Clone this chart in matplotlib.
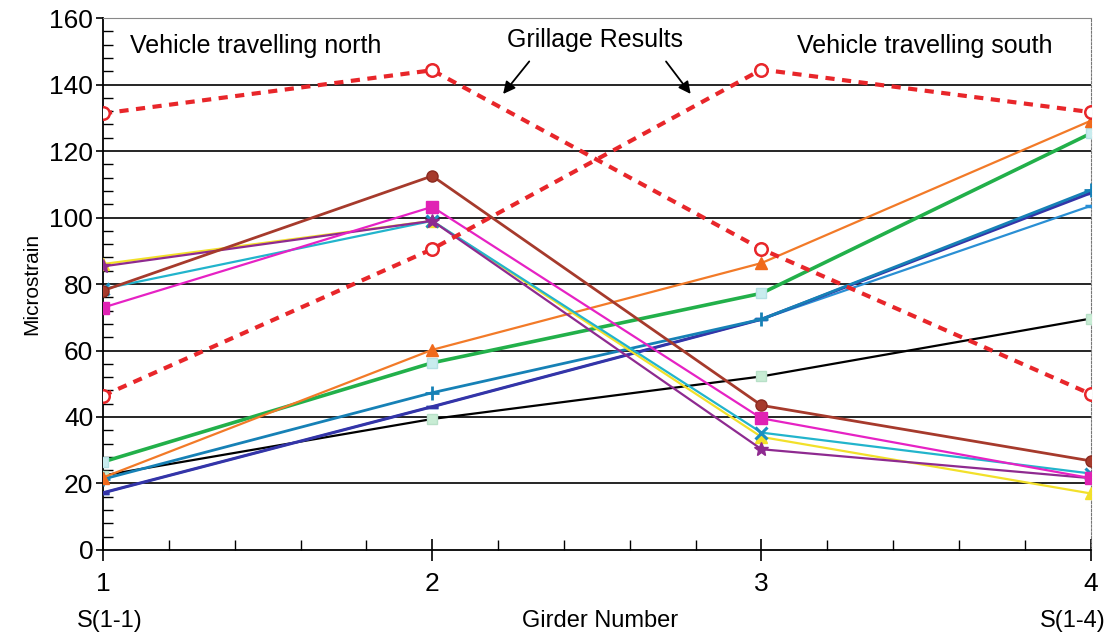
import matplotlib.pyplot as plt
from matplotlib.ticker import MultipleLocator

plt.rcParams['font.family'] = ['Liberation Sans', 'DejaVu Sans']

girders = [1, 2, 3, 4]

# Measured strain, vehicle travelling north
north_brown = [78, 112.5, 43.5, 26.8]
north_magenta = [72.9, 103.2, 39.6, 21.6]
north_yellow = [86, 99, 34, 17]
north_purple = [85.3, 99, 30.3, 21.6]
north_cyan = [78.5, 99, 35.3, 23]

# Measured strain, vehicle travelling south
south_orange = [21.8, 60.2, 86.3, 129.1]
south_green = [26.5, 56.3, 77.2, 125.3]
south_teal = [21.3, 47.3, 69.4, 108.2]
south_navy = [17.2, 43.1, 69.4, 107.4]
south_blue = [17.2, 43.1, 69.4, 103.5]
south_black = [22.4, 39.4, 52.2, 69.6]

# Grillage model results
grillage_north = [131.3, 144.3, 90.5, 46.9]
grillage_south = [46.4, 90.5, 144.5, 131.7]

fig = plt.figure(figsize=(11.13, 6.37), dpi=100)
ax = fig.add_axes([0.0925, 0.1366, 0.8875, 0.8351])

ax.set_xlim(1, 4)
ax.set_ylim(0, 160)

for v in range(20, 160, 20):
    ax.axhline(v, color='black', lw=1.2, zorder=1)

lw = 1.6
ms = 7
ax.plot(girders, south_black, color='black', lw=lw, marker='s', ms=ms,
        mfc='#c8ecd4', mec='#b8e0c8', zorder=3)
ax.plot(girders, south_blue, color='#2a8fd4', lw=lw, marker='_', ms=9,
        mew=2.5, zorder=3)
ax.plot(girders, south_navy, color='#3434a8', lw=lw + 0.6, marker='_', ms=9,
        mew=2.5, zorder=3)
ax.plot(girders, south_teal, color='#1681b6', lw=lw + 0.4, marker='+', ms=10,
        mew=2, zorder=3)
ax.plot(girders, south_green, color='#22b04a', lw=lw + 1.0, marker='s', ms=ms,
        mfc='#c8ecee', mec='#b4e0e4', zorder=3)
ax.plot(girders, south_orange, color='#f27a28', lw=lw, marker='^', ms=ms + 1,
        mfc='#f06a1c', mec='#f06a1c', zorder=3)

ax.plot(girders, north_yellow, color='#f2e02a', lw=lw, marker='^', ms=ms + 1,
        mfc='#f2e02a', mec='#f2e02a', zorder=3)
ax.plot(girders, north_cyan, color='#22b4cc', lw=lw, marker='x', ms=ms + 1,
        mew=2.2, mec='#1a8fc0', zorder=3)
ax.plot(girders, north_purple, color='#8e2a90', lw=lw, marker='*', ms=ms + 3,
        mfc='#8e2a90', mec='#8e2a90', zorder=3)
ax.plot(girders, north_magenta, color='#e622c4', lw=lw, marker='s', ms=ms + 1,
        mfc='#e022b4', mec='#e022b4', zorder=3)
ax.plot(girders, north_brown, color='#a63a2c', lw=lw + 0.4, marker='o', ms=ms + 1,
        mfc='#a63a2c', mec='#8a2a20', zorder=3)

for g in (grillage_north, grillage_south):
    ax.plot(girders, g, color='#e8262a', lw=3, ls=(0, (2.2, 1.8)),
            marker='o', ms=9, mfc='white', mec='#e8262a', mew=1.8, zorder=4)

# Axes styling
ax.spines['top'].set_color('#888888')
ax.spines['right'].set_color('#777777')
ax.spines['right'].set_linestyle((0, (2, 1.5)))
ax.spines['left'].set_linewidth(1.3)
ax.spines['bottom'].set_linewidth(1.3)

ax.xaxis.set_major_locator(MultipleLocator(1))
ax.xaxis.set_minor_locator(MultipleLocator(0.2))
ax.yaxis.set_major_locator(MultipleLocator(20))
ax.yaxis.set_minor_locator(MultipleLocator(4))
ax.tick_params(axis='x', which='major', direction='inout', length=16, width=1.2,
               pad=8, labelsize=19)
ax.tick_params(axis='x', which='minor', direction='in', length=7, width=1)
ax.tick_params(axis='y', which='major', direction='out', length=5, width=1.2,
               pad=2, labelsize=19)
ax.tick_params(axis='y', which='minor', direction='in', length=7, width=1)

ax.set_ylabel('Microstrain', fontsize=15, labelpad=6)
ax.set_xlabel('Girder Number', fontsize=17)
ax.xaxis.set_label_coords(0.503, -0.112)

ax.annotate('S(1-1)', xy=(1, 0), xycoords=('data', 'axes fraction'),
            xytext=(5, -43), textcoords='offset points', ha='center',
            va='top', fontsize=17)
ax.annotate('S(1-4)', xy=(4, 0), xycoords=('data', 'axes fraction'),
            xytext=(-13, -43), textcoords='offset points', ha='center',
            va='top', fontsize=17)

ax.text(1.082, 151.6, 'Vehicle travelling north', fontsize=18, va='center')
ax.text(3.107, 151.6, 'Vehicle travelling south', fontsize=18, va='center')
ax.text(2.494, 153.3, 'Grillage Results', fontsize=18, ha='center', va='center')
ax.annotate('', xy=(2.21, 136.5), xytext=(2.30, 147.6),
            arrowprops=dict(arrowstyle='-|>', color='black', lw=1.3,
                            mutation_scale=18))
ax.annotate('', xy=(2.79, 136.5), xytext=(2.705, 147.6),
            arrowprops=dict(arrowstyle='-|>', color='black', lw=1.3,
                            mutation_scale=18))

fig.savefig('out.png', dpi=100)
